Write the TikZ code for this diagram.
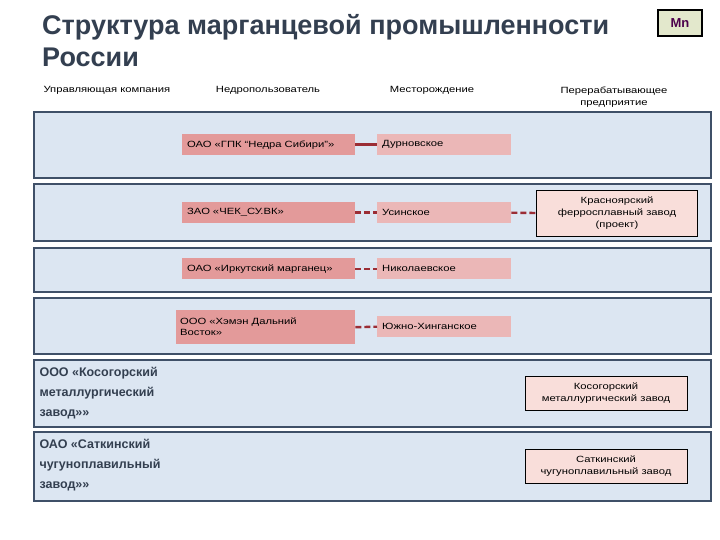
\documentclass[tikz,border=0pt]{standalone}
\usepackage{fontspec}
\setmainfont{Liberation Sans}
\newfontfamily\wide[FakeStretch=1.25]{Liberation Sans}
\definecolor{band}{HTML}{DCE6F2}
\definecolor{bandline}{HTML}{3F5068}
\definecolor{dpink}{HTML}{E39A9A}
\definecolor{lpink}{HTML}{EBB7B7}
\definecolor{vpink}{HTML}{F9DEDA}
\definecolor{conn}{HTML}{9B2D35}
\definecolor{titlec}{HTML}{333F50}
\begin{document}
\begin{tikzpicture}[x=1pt,y=-1pt,
  bandbox/.style={draw=bandline,line width=1.4pt,fill=band},
  ubox/.style={fill=dpink,font=\wide\fontsize{9}{11}\selectfont,align=left,anchor=north west,inner sep=5pt},
  mbox/.style={fill=lpink,font=\wide\fontsize{9}{11}\selectfont,anchor=north west,inner sep=5pt},
  pbox/.style={fill=vpink,draw=black,line width=0.5pt,font=\wide\fontsize{9}{12}\selectfont,align=center,inner sep=2pt},
  hdr/.style={font=\wide\fontsize{9}{12}\selectfont,align=center},
  comp/.style={font=\bfseries\fontsize{12.5}{20}\selectfont,text=titlec,align=left,anchor=north west},
  ln/.style={draw=conn,line width=2.4pt},
  dln/.style={draw=conn,line width=2.4pt,dash pattern=on 6pt off 3pt}]
\useasboundingbox (0,0) rectangle (720,540);
\fill[white] (0,0) rectangle (720,540);
\node[anchor=north west,font=\bfseries\fontsize{27}{32}\selectfont,text=titlec,align=left,inner sep=0] (title) at (42,14) {Структура марганцевой промышленности\\России};
\node[draw=black,line width=1.8pt,fill=green!10!olive!20,font=\bfseries\fontsize{13}{14}\selectfont,text=violet!60!black,minimum width=44pt,minimum height=26pt] (mn) at (680,23) {Mn};
\node[hdr,anchor=west] (h1) at (40,90) {Управляющая компания};
\node[hdr] (h2) at (268,90) {Недропользователь};
\node[hdr] (h3) at (432,90) {Месторождение};
\node[hdr] (h4) at (614,97) {Перерабатывающее\\предприятие};
\draw[bandbox] (34,112) rectangle (711,178);
\draw[bandbox] (34,184) rectangle (711,241);
\draw[bandbox] (34,248) rectangle (711,292);
\draw[bandbox] (34,298) rectangle (711,354);
\draw[bandbox] (34,360) rectangle (711,427);
\draw[bandbox] (34,432) rectangle (711,501);
\node[ubox,text width=163pt,minimum height=21pt] (u1) at (182,134) {ОАО «ГПК “Недра Сибири”»};
\node[mbox,text width=124pt,minimum height=21pt] (m1) at (377,134) {Дурновское};
\node[ubox,text width=163pt,minimum height=21pt] (u2) at (182,202) {ЗАО «ЧЕК\_СУ.ВК»};
\node[mbox,text width=124pt,minimum height=21pt] (m2) at (377,202) {Усинское};
\node[pbox,minimum width=161pt,minimum height=46pt] (p2) at (617,213) {Красноярский\\ферросплавный завод\\(проект)};
\node[ubox,text width=171pt,inner xsep=4pt,minimum height=34pt,inner ysep=3pt] (u4) at (176,310) {ООО «Хэмэн Дальний\\Восток»};
\node[ubox,text width=163pt,minimum height=21pt] (u3) at (182,258) {ОАО «Иркутский марганец»};
\node[mbox,text width=124pt,minimum height=21pt] (m3) at (377,258) {Николаевское};
\node[mbox,text width=124pt,minimum height=21pt] (m4) at (377,316) {Южно-Хинганское};
\node[comp] (c5) at (36,364) {ООО «Косогорский\\металлургический\\завод»»};
\node[comp] (c6) at (36,436) {ОАО «Саткинский\\чугуноплавильный\\завод»»};
\node[pbox,minimum width=162pt,minimum height=34pt] (p5) at (606,393) {Косогорский\\металлургический завод};
\node[pbox,minimum width=162pt,minimum height=34pt] (p6) at (606,466) {Саткинский\\чугуноплавильный завод};
\draw[ln] (u1.east) -- (m1.west);
\draw[dln] (u2.east) -- (m2.west);
\draw[dln] (m2.east) -- (p2.west);
\draw[dln] (u3.east) -- (m3.west);
\draw[dln] (u4.east) -- (m4.west);
\end{tikzpicture}
\end{document}
